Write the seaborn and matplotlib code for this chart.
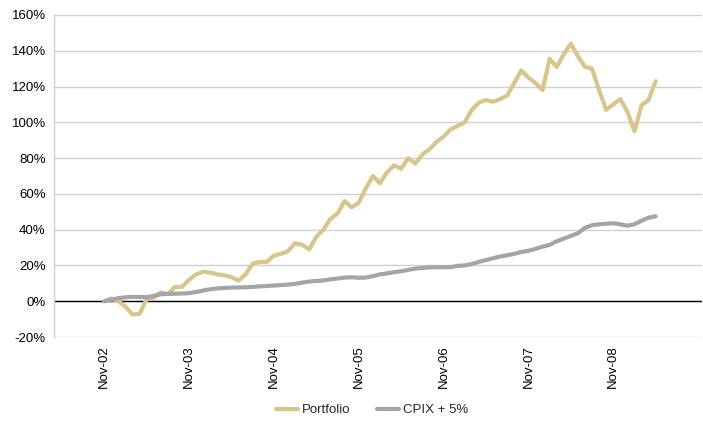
import matplotlib
matplotlib.use("Agg")
import matplotlib.pyplot as plt
import matplotlib.ticker as mticker
import seaborn as sns
import pandas as pd
import numpy as np

# Month index 0 = Nov-02 ... 78 = May-09
portfolio = [0, 1.5, 0, -3, -7.5, -7, 1, 2, 5, 4, 8, 8,
             12, 15, 16.5, 16, 15, 14.5, 13.5, 11.5, 15, 21, 22, 22,
             25.5, 26.5, 28, 32.5, 31.5, 29, 36, 40, 46, 49, 56, 52.5,
             55, 63, 70, 66, 72, 76, 74, 80, 77, 82, 85, 89,
             92, 96, 98, 100, 107, 111, 112.5, 111.5, 113, 115, 122, 129,
             125, 122, 118, 135.5, 131, 138, 144, 137, 131, 130, 118, 107,
             110, 113, 106, 95, 109.5, 112.5, 123]
cpix = [0, 0.8, 1.7, 2.2, 2.4, 2.4, 2.2, 3, 3.9, 4.1, 4.2, 4.3,
        4.5, 5.2, 6, 6.7, 7.2, 7.4, 7.6, 7.7, 7.8, 8, 8.3, 8.5,
        8.8, 9, 9.3, 9.7, 10.4, 11, 11.3, 11.6, 12.2, 12.7, 13.2, 13.4,
        13.1, 13.2, 14, 15, 15.6, 16.2, 16.8, 17.5, 18.2, 18.6, 18.9, 19,
        19, 19, 19.8, 20, 20.8, 22, 23, 24, 25, 25.7, 26.5, 27.5,
        28.2, 29.3, 30.5, 31.5, 33.5, 35, 36.5, 38, 41, 42.5, 43, 43.3,
        43.6, 43, 42.2, 43, 45, 46.7, 47.5]
tick_labels = ["Nov-02", "Nov-03", "Nov-04", "Nov-05", "Nov-06", "Nov-07", "Nov-08"]
series_names = ["Portfolio", "CPIX + 5%"]

months = np.arange(len(portfolio))
df = pd.DataFrame({
    "month": np.concatenate([months, months]),
    "value": np.array(portfolio + cpix) / 100.0,
    "series": [series_names[0]] * len(portfolio) + [series_names[1]] * len(cpix),
})

sns.set_theme(style="white")
plt.rcParams["font.family"] = ["Liberation Sans", "DejaVu Sans"]

fig = plt.figure(figsize=(7.03, 4.23), dpi=100)
ax = fig.add_axes([54 / 703, 1 - 337 / 423, 1 - 54 / 703 - 0.001, (337 - 15) / 423])

sns.lineplot(data=df, x="month", y="value", hue="series", ax=ax,
             palette={"Portfolio": "#D8C58C", "CPIX + 5%": "#A5A5A8"},
             linewidth=3.0, legend=True)

ax.set_xlim(-7.1, 84.6)
ax.set_ylim(-0.2, 1.6)
ax.yaxis.set_major_locator(mticker.MultipleLocator(0.2))
ax.yaxis.set_major_formatter(mticker.FuncFormatter(lambda v, p: f"{v*100:.0f}%"))
ax.grid(axis="y", color="#D0D0D0", linewidth=1.0)
ax.set_axisbelow(True)
ax.axhline(0, color="black", linewidth=1.0, zorder=1.5)

ax.set_xticks(np.arange(0, 84, 12))
ax.set_xticklabels(tick_labels, rotation=90, fontsize=9.5, color="#000000")
ax.tick_params(axis="y", labelsize=9.5, colors="#000000", length=0, pad=6)
ax.tick_params(axis="x", length=0, pad=6)
for s in ["top", "right", "bottom"]:
    ax.spines[s].set_visible(False)
ax.spines["left"].set_color("#D0D0D0")
ax.spines["left"].set_linewidth(1.0)
ax.set_xlabel("")
ax.set_ylabel("")

sns.move_legend(ax, "center", bbox_to_anchor=(372 / 703, 1 - 410 / 423),
                bbox_transform=fig.transFigure, ncol=2, frameon=False, title=None,
                fontsize=9.5, handlelength=1.7, columnspacing=2.0, handletextpad=0.3)

fig.savefig("out.png", dpi=100)
